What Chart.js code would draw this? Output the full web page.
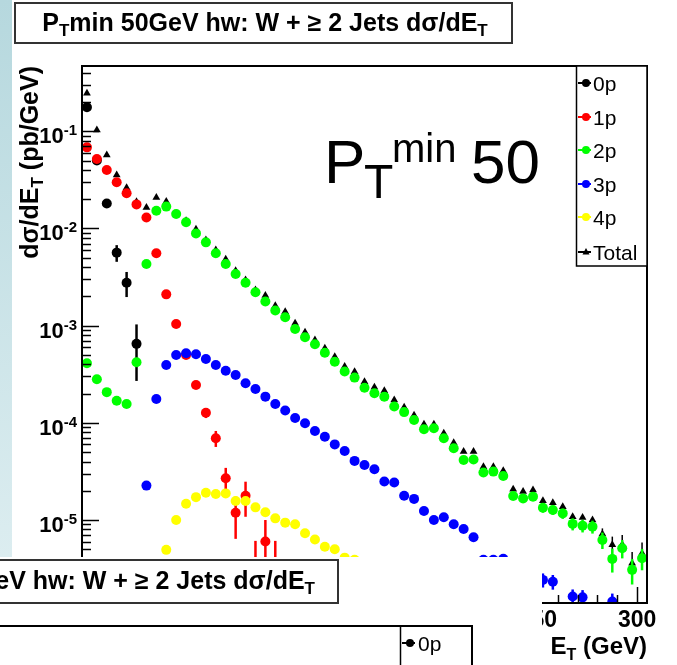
<!DOCTYPE html>
<html>
<head>
<meta charset="utf-8">
<script src="https://cdn.jsdelivr.net/npm/chart.js@4.4.1/dist/chart.umd.min.js"></script>
<style>
  html, body { margin: 0; padding: 0; background: #fff; }
  body { width: 677px; height: 665px; overflow: hidden; }
  canvas { display: block; }
</style>
</head>
<body>
<canvas id="plot" width="677" height="665" style="width:677px;height:665px"></canvas>
<script>
// --- DATA ---
const _ = null;

// bin centres in GeV (5 GeV bins from 20 to 305)
const etBins = [
  22.5, 27.5, 32.5, 37.5, 42.5, 47.5, 52.5, 57.5, 62.5, 67.5,
  72.5, 77.5, 82.5, 87.5, 92.5, 97.5, 102.5, 107.5, 112.5, 117.5,
  122.5, 127.5, 132.5, 137.5, 142.5, 147.5, 152.5, 157.5, 162.5, 167.5,
  172.5, 177.5, 182.5, 187.5, 192.5, 197.5, 202.5, 207.5, 212.5, 217.5,
  222.5, 227.5, 232.5, 237.5, 242.5, 247.5, 252.5, 257.5, 262.5, 267.5,
  272.5, 277.5, 282.5, 287.5, 292.5, 297.5, 302.5
];

const xs0p = [
  0.177, 0.05, 0.0181, 0.00564, 0.00277, 6.5e-4, _, _, _, _,
  _, _, _, _, _, _, _, _, _, _,
  _, _, _, _, _, _, _, _, _, _,
  _, _, _, _, _, _, _, _, _, _,
  _, _, _, _, _, _, _, _, _, _,
  _, _, _, _, _, _, _
];
const xs1p = [
  0.0684, 0.0519, 0.040, 0.0299, 0.0230, 0.0177, 0.0130, 0.00556, 0.0021, 1.04e-3,
  5.0e-4, 2.45e-4, 1.27e-4, 6.95e-5, 2.69e-5, 1.19e-5, 1.78e-5, 3.5e-6, 6.0e-6, 3.5e-6,
  _, _, _, _, _, _, _, _, _, _,
  _, _, _, _, _, _, _, _, _, _,
  _, _, _, _, _, _, _, _, _, _,
  _, _, _, _, _, _, _
];
const xs2p = [
  4.1e-4, 2.81e-4, 2.07e-4, 1.69e-4, 1.56e-4, 4.2e-4, 4.32e-3, 0.0152, 0.0168, 0.0141,
  0.0116, 0.0089, 0.0072, 0.00556, 0.00432, 0.0034, 0.00277, 0.00221, 1.77e-3, 1.43e-3,
  1.22e-3, 9.25e-4, 7.6e-4, 6.44e-4, 5.27e-4, 4.26e-4, 3.37e-4, 2.92e-4, 2.3e-4, 2.02e-4,
  1.86e-4, 1.47e-4, 1.29e-4, 1.07e-4, 8.6e-5, 8.8e-5, 6.95e-5, 5.48e-5, 4.15e-5, 4.2e-5,
  3.08e-5, 3.15e-5, 2.84e-5, 1.77e-5, 1.67e-5, 1.74e-5, 1.34e-5, 1.27e-5, 1.17e-5, 9.12e-6,
  8.75e-6, 8.55e-6, 6.23e-6, 3.98e-6, 5.13e-6, 3.07e-6, 4.04e-6
];
const xs3p = [
  _, _, _, _, _, _, 2.26e-5, 1.76e-4, 3.94e-4, 5.0e-4,
  5.2e-4, 5.08e-4, 4.54e-4, 3.94e-4, 3.44e-4, 3.11e-4, 2.55e-4, 2.23e-4, 1.86e-4, 1.56e-4,
  1.34e-4, 1.12e-4, 9.9e-5, 8.26e-5, 7.2e-5, 6.0e-5, 5.14e-5, 4.06e-5, 3.69e-5, 3.33e-5,
  2.49e-5, 2.43e-5, 1.78e-5, 1.65e-5, 1.24e-5, 1.0e-5, 1.07e-5, 9.06e-6, 8.1e-6, 6.65e-6,
  3.9e-6, 3.9e-6, 4.0e-6, _, _, _, 2.42e-6, 2.32e-6, _, 1.63e-6,
  1.6e-6, _, _, 1.45e-6, _, _, _
];
const xs4p = [
  _, _, _, _, _, _, _, _, 4.93e-6, 1.0e-5,
  1.47e-5, 1.72e-5, 1.91e-5, 1.85e-5, 1.88e-5, 1.57e-5, 1.57e-5, 1.35e-5, 1.2e-5, 1.04e-5,
  9.4e-6, 9.05e-6, 7.3e-6, 6.3e-6, 5.3e-6, 5.0e-6, 4.1e-6, 3.9e-6, _, _,
  _, _, _, _, _, _, _, _, _, _,
  _, _, _, _, _, _, _, _, _, _,
  _, _, _, _, _, _, _
];
const xsTotal = [
  0.246, 0.103, 0.057, 0.0355, 0.0263, 0.0188, 0.0164, 0.0209, 0.0189, 0.0143,
  0.012, 0.0098, 0.0076, 0.0060, 0.00482, 0.00368, 0.00295, 0.00233, 0.00204, 0.0016,
  1.39e-3, 1.06e-3, 8.55e-4, 7.13e-4, 5.85e-4, 4.8e-4, 3.79e-4, 3.36e-4, 2.65e-4, 2.32e-4,
  2.14e-4, 1.72e-4, 1.45e-4, 1.2e-4, 9.67e-5, 9.67e-5, 7.8e-5, 6.25e-5, 5.06e-5, 5.06e-5,
  3.54e-5, 3.54e-5, 3.22e-5, 2.07e-5, 1.96e-5, 2.04e-5, 1.58e-5, 1.51e-5, 1.37e-5, 1.08e-5,
  1.06e-5, 1.0e-5, 7.2e-6, 5.55e-6, 5.6e-6, 3.6e-6, 4.56e-6
];

// errors (same bins), only where a bar is visible
const err0p = [
  _, _, _, 1.1e-3, 0.8e-3, 3.8e-4, _, _, _, _,
  _, _, _, _, _, _, _, _, _, _,
  _, _, _, _, _, _, _, _, _, _,
  _, _, _, _, _, _, _, _, _, _,
  _, _, _, _, _, _, _, _, _, _,
  _, _, _, _, _, _, _
];
const err1p = [
  _, _, _, _, _, _, _, _, _, _,
  _, 2e-5, 1.5e-5, 1.3e-5, 7.5e-6, 5.5e-6, 7e-6, 2.6e-6, 4e-6, 2.6e-6,
  _, _, _, _, _, _, _, _, _, _,
  _, _, _, _, _, _, _, _, _, _,
  _, _, _, _, _, _, _, _, _, _,
  _, _, _, _, _, _, _
];
const err2p = [
  _, _, _, _, _, _, _, _, _, _,
  _, _, _, _, _, _, _, _, _, _,
  _, _, _, _, _, _, _, _, _, _,
  _, _, _, _, _, _, _, _, _, _,
  _, _, _, 1.6e-6, 1.5e-6, 1.5e-6, 1.5e-6, 1.4e-6, 1.4e-6, 1.3e-6,
  1.3e-6, 1.3e-6, 1.2e-6, 1.1e-6, 1.1e-6, 0.9e-6, 1.0e-6
];
const err3p = [
  _, _, _, _, _, _, _, _, _, _,
  _, _, _, _, _, _, _, _, _, _,
  _, _, _, _, _, _, _, _, _, _,
  _, _, _, _, _, _, _, _, _, _,
  _, _, _, _, _, _, 4e-7, 4e-7, _, 3e-7,
  3e-7, _, _, 3e-7, _, _, _
];
const errTotal = [
  _, _, _, _, _, _, _, _, _, _,
  _, _, _, _, _, _, _, _, _, _,
  _, _, _, _, _, _, _, _, _, _,
  _, _, _, _, _, _, _, _, _, _,
  _, _, _, _, _, _, _, _, _, _,
  _, _, 1.0e-6, 1.2e-6, 1.4e-6, 1.1e-6, 1.3e-6
];

const seriesNames = ['0p', '1p', '2p', '3p', '4p', 'Total'];
const yTickExps = [-1, -2, -3, -4, -5];
const xTickLabels = [50, 100, 150, 200, 250, 300];

// --- HELPERS ---
const FONT = '"Liberation Sans", Arial, Helvetica, sans-serif';
const B = n => 'bold ' + n + 'px ' + FONT;
const N = n => n + 'px ' + FONT;

function toPoints(vals, errs) {
  const pts = [];
  etBins.forEach((x, i) => {
    if (vals[i] !== null) pts.push({ x: x, y: vals[i], e: errs ? errs[i] : null });
  });
  return pts;
}

// draws a run of text pieces [text, font, dy] one after the other
function richText(ctx, x, y, parts, align) {
  let w = 0;
  parts.forEach(p => { ctx.font = p[1]; w += ctx.measureText(p[0]).width; });
  let cx = align === 'right' ? x - w : (align === 'center' ? x - w / 2 : x);
  ctx.textAlign = 'left';
  parts.forEach(p => {
    ctx.font = p[1];
    ctx.fillText(p[0], cx, y + (p[2] || 0));
    cx += ctx.measureText(p[0]).width;
  });
}

function marker(ctx, style, x, y, color) {
  ctx.fillStyle = color;
  ctx.beginPath();
  if (style === 'triangle') {
    ctx.moveTo(x, y - 4); ctx.lineTo(x + 3.5, y + 2.5); ctx.lineTo(x - 3.5, y + 2.5);
  } else {
    ctx.arc(x, y, 4, 0, Math.PI * 2);
  }
  ctx.fill();
}

// --- ROOT LOOK PLUGIN ---
const rootLook = {
  id: 'rootLook',
  beforeDraw(chart) {
    const ctx = chart.ctx;
    // slide strip on the left
    const g = ctx.createLinearGradient(0, 0, 0, 557);
    g.addColorStop(0, '#b6d8de');
    g.addColorStop(1, '#dcedf0');
    ctx.fillStyle = g;
    ctx.fillRect(0, 0, 12, 557);
  },
  beforeDatasetDraw(chart, args) {
    const ds = chart.data.datasets[args.index];
    const ys = chart.scales.y;
    const a = chart.chartArea;
    const ctx = chart.ctx;
    ctx.save();
    ctx.beginPath();
    ctx.rect(a.left, a.top, a.right - a.left, a.bottom - a.top);
    ctx.clip();
    ctx.strokeStyle = ds.backgroundColor;
    ctx.lineWidth = ds.label === 'Total' ? 1.5 : 2.5;
    args.meta.data.forEach((el, i) => {
      const p = ds.data[i];
      if (!p || !p.e) return;
      const lo = Math.max(p.y - p.e, 1e-9);
      ctx.beginPath();
      ctx.moveTo(el.x, ys.getPixelForValue(p.y + p.e));
      ctx.lineTo(el.x, ys.getPixelForValue(lo));
      ctx.stroke();
    });
    ctx.restore();
  },
  afterDraw(chart) {
    const ctx = chart.ctx;
    const a = chart.chartArea;
    const xs = chart.scales.x, ys = chart.scales.y;
    ctx.save();
    ctx.fillStyle = '#000';
    ctx.strokeStyle = '#000';
    ctx.textBaseline = 'alphabetic';

    // frame
    ctx.lineWidth = 2;
    ctx.strokeRect(a.left, a.top, a.right - a.left, a.bottom - a.top);

    // y ticks (log)
    ctx.lineWidth = 1.5;
    for (let e = -6; e <= 0; e++) {
      for (let m = 1; m <= 9; m++) {
        const v = m * Math.pow(10, e);
        if (v < ys.min || v > ys.max) continue;
        const py = Math.round(ys.getPixelForValue(v)) + 0.5;
        const len = m === 1 ? 17 : 9;
        ctx.beginPath(); ctx.moveTo(a.left, py); ctx.lineTo(a.left + len, py); ctx.stroke();
      }
    }
    yTickExps.forEach(e => {
      const py = ys.getPixelForValue(Math.pow(10, e));
      richText(ctx, 77, py + 12, [['10', B(22)], [String(e), B(15), -8]], 'right');
    });

    // x ticks
    for (let v = 30; v <= 300; v += 10) {
      const px = Math.round(xs.getPixelForValue(v)) + 0.5;
      const len = v % 50 === 0 ? 16 : 8;
      ctx.beginPath(); ctx.moveTo(px, a.bottom); ctx.lineTo(px, a.bottom - len); ctx.stroke();
    }
    ctx.font = B(23);
    ctx.textAlign = 'center';
    xTickLabels.forEach(v => ctx.fillText(String(v), xs.getPixelForValue(v), 627));

    // axis titles
    richText(ctx, a.right, 654, [['E', B(24)], ['T', B(16), 6], [' (GeV)', B(24)]], 'right');
    ctx.save();
    ctx.translate(38, a.top);
    ctx.rotate(-Math.PI / 2);
    richText(ctx, 0, 0, [['dσ/dE', B(25)], ['T', B(17), 5], [' (pb/GeV)', B(25)]], 'right');
    ctx.restore();

    // big label
    ctx.textAlign = 'left';
    ctx.font = N(62); ctx.fillText('P', 324, 183);
    ctx.font = N(48); ctx.fillText('T', 364, 198);
    ctx.font = N(40); ctx.fillText('min', 392, 162);
    ctx.font = N(62); ctx.fillText('50', 471, 183);

    // legend
    ctx.fillStyle = '#fff';
    ctx.fillRect(576, 66, 71, 200);
    ctx.lineWidth = 1.5;
    ctx.strokeRect(576.5, 66, 70.5, 200);
    const legY = [83, 117, 150, 184, 217, 252];
    chart.data.datasets.forEach(ds => {
      const k = seriesNames.indexOf(ds.label);
      const cy = legY[k];
      ctx.strokeStyle = ds.backgroundColor;
      ctx.lineWidth = 2;
      ctx.beginPath(); ctx.moveTo(578, cy); ctx.lineTo(591, cy); ctx.stroke();
      marker(ctx, ds.pointStyle, 586, cy, ds.backgroundColor);
      ctx.fillStyle = '#000';
      ctx.font = N(21);
      ctx.textAlign = 'left';
      ctx.fillText(ds.label, 593, cy + 7.5);
    });

    // title box
    ctx.fillStyle = '#fff';
    ctx.fillRect(15, 3, 497, 40);
    ctx.strokeStyle = '#333';
    ctx.lineWidth = 2;
    ctx.strokeRect(15, 3, 497, 40);
    ctx.fillStyle = '#000';
    richText(ctx, 265, 31, [['P', B(25)], ['T', B(17), 5], ['min 50GeV hw: W + ≥ 2 Jets dσ/dE', B(25)], ['T', B(17), 5]], 'center');

    // next plot of the slide, lying over the bottom part
    ctx.fillStyle = '#fff';
    ctx.fillRect(0, 557, 542, 108);
    ctx.strokeStyle = '#333';
    ctx.lineWidth = 2;
    ctx.strokeRect(-159, 560, 497, 43);
    ctx.fillStyle = '#000';
    richText(ctx, 315, 589, [['eV hw: W + ≥ 2 Jets dσ/dE', B(25)], ['T', B(17), 5]], 'right');
    ctx.strokeStyle = '#000';
    ctx.beginPath();
    ctx.moveTo(0, 626); ctx.lineTo(473, 626);
    ctx.moveTo(472, 626); ctx.lineTo(472, 665);
    ctx.stroke();
    ctx.lineWidth = 1.5;
    ctx.beginPath(); ctx.moveTo(400.5, 626); ctx.lineTo(400.5, 665); ctx.stroke();
    ctx.lineWidth = 2;
    ctx.beginPath(); ctx.moveTo(402, 643); ctx.lineTo(415, 643); ctx.stroke();
    marker(ctx, 'circle', 410, 643, '#000');
    ctx.fillStyle = '#000';
    ctx.font = N(21);
    ctx.textAlign = 'left';
    ctx.fillText('0p', 418, 651);

    ctx.restore();
  }
};

// --- CHART ---
function makeSet(label, vals, errs, color, style, radius, order) {
  return {
    label: label,
    data: toPoints(vals, errs),
    backgroundColor: color,
    borderColor: color,
    pointStyle: style,
    pointRadius: radius,
    pointBorderWidth: 0,
    showLine: false,
    order: order
  };
}

function initChart() {
  const ctx = document.getElementById('plot').getContext('2d');
  new Chart(ctx, {
    type: 'scatter',
    data: {
      datasets: [
        makeSet('0p', xs0p, err0p, '#000000', 'circle', 5, 5),
        makeSet('1p', xs1p, err1p, '#ff0000', 'circle', 5, 4),
        makeSet('2p', xs2p, err2p, '#00ff00', 'circle', 5, 3),
        makeSet('3p', xs3p, err3p, '#0000ff', 'circle', 5, 2),
        makeSet('4p', xs4p, null, '#ffff00', 'circle', 5, 1),
        makeSet('Total', xsTotal, errTotal, '#000000', 'triangle', 4.5, 6)
      ]
    },
    options: {
      responsive: false,
      animation: false,
      devicePixelRatio: 1,
      layout: { padding: { left: 82, top: 66, right: 30, bottom: 62 } },
      plugins: { legend: { display: false }, tooltip: { enabled: false } },
      scales: {
        x: { type: 'linear', min: 20, max: 305, display: false },
        y: { type: 'logarithmic', min: 1.4e-6, max: 0.47, display: false }
      }
    },
    plugins: [rootLook]
  });
}

window.addEventListener('load', initChart);
</script>
</body>
</html>
